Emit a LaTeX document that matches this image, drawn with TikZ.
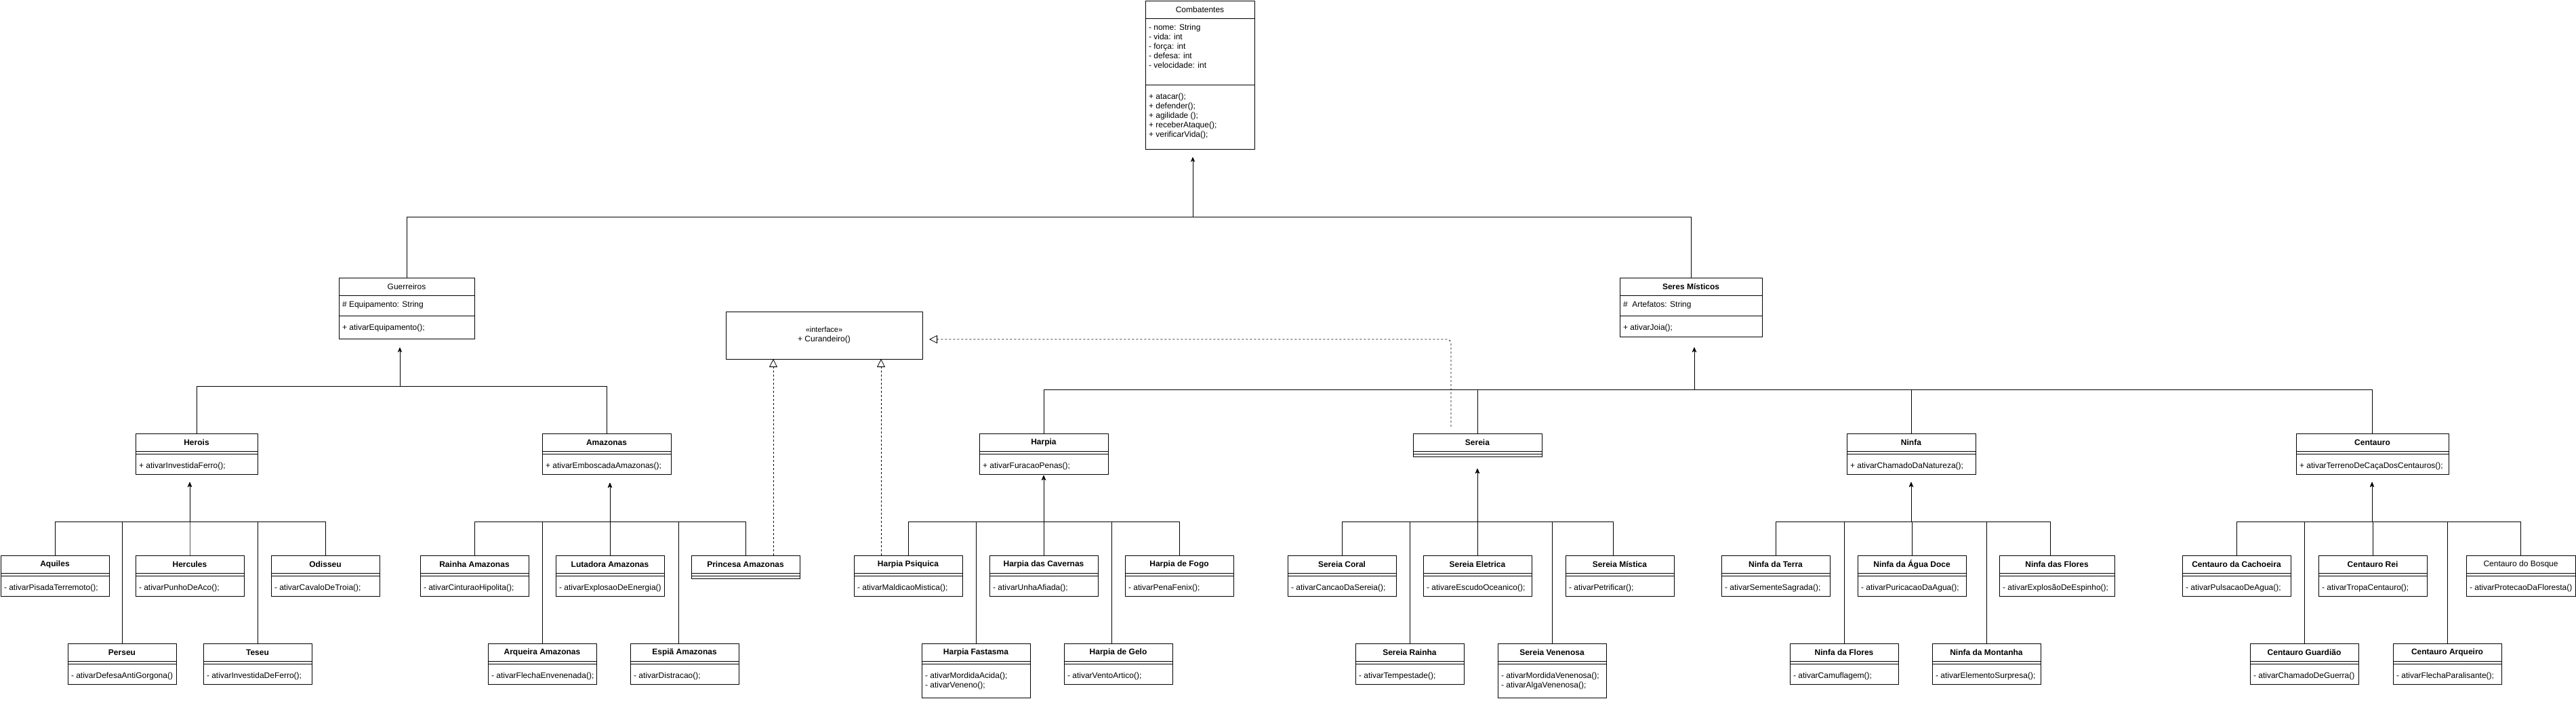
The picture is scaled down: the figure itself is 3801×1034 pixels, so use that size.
\documentclass[tikz,border=0pt]{standalone}
\usepackage{fontspec}
\setmainfont{Liberation Sans}
\usetikzlibrary{arrows.meta}

% class box: name, x, y, width, title, attributes, attr height, methods, method height
\newcommand{\umlclass}[9]{%
\node[classtitle,minimum width=#4pt,anchor=north west] (#1) at (#2,#3) {#5};
\node[classpart,minimum width=#4pt,minimum height=#7pt,anchor=north west] (#1-a) at (#1.south west) {};
\node[attrtext] (#1-at) at (#1-a.north west) {#6};
\node[classpart,minimum width=#4pt,minimum height=#9pt,anchor=north west] (#1-m) at (#1-a.south west) {};
\node[methtext] (#1-mt) at (#1-m.north west) {#8};
}

\begin{document}
\begin{tikzpicture}[x=1pt,y=-1pt,inner sep=0pt,outer sep=0pt,line width=0.8pt,
font=\fontsize{12}{14}\selectfont,
classtitle/.style={draw,rectangle,line width=1pt,minimum height=26pt},
classpart/.style={draw,rectangle,line width=1pt},
attrtext/.style={anchor=north west,align=left,inner xsep=5pt,inner ysep=9pt},
methtext/.style={anchor=north west,align=left,inner xsep=5pt,inner ysep=12.5pt},
inh/.style={-{Stealth[length=7pt,width=6pt]}},
real/.style={dash pattern=on 3pt off 3pt,-{Triangle[open,length=12pt,width=12pt]}}]
\useasboundingbox (0,0) rectangle (3801,1034);

% top
\umlclass{comb}{1690}{1}{161}{Combatentes}{- nome: String\\- vida: int\\- força: int\\- defesa: int\\- velocidade: int}{98}{+ atacar();\\+ defender();\\+ agilidade ();\\+ receberAtaque();\\+ verificarVida();}{95}
\umlclass{guer}{500}{410}{200}{Guerreiros}{\# Equipamento: String}{30}{+ ativarEquipamento();}{34}
\umlclass{seres}{2390}{410}{210}{\textbf{Seres Místicos}}{\#~~Artefatos: String}{30}{+ ativarJoia();}{31}
\node[draw,line width=1pt,minimum width=290pt,minimum height=70pt,anchor=north west,align=center] (cur) at (1071,460) {{\fontsize{11}{13}\selectfont «interface»}\\+ Curandeiro()};

% second row
\umlclass{herois}{200}{640}{180}{\textbf{Herois}}{}{4}{+ ativarInvestidaFerro();}{30}
\umlclass{amaz}{800}{640}{190}{\textbf{Amazonas}}{}{4}{+ ativarEmboscadaAmazonas();}{30}
\umlclass{harpia}{1445}{640}{190}{\textbf{Harpia}}{}{4}{+ ativarFuracaoPenas();}{30}
\umlclass{sereia}{2085}{640}{190}{\textbf{Sereia}}{}{4}{}{4}
\umlclass{ninfa}{2725}{640}{190}{\textbf{Ninfa}}{}{4}{+ ativarChamadoDaNatureza();}{30}
\umlclass{centauro}{3388}{640}{225}{\textbf{Centauro}}{}{4}{+ ativarTerrenoDeCaçaDosCentauros();}{30}

% herois
\umlclass{aquiles}{1}{820}{160}{\textbf{Aquiles}}{}{4}{- ativarPisadaTerremoto();}{30}
\umlclass{hercules}{200}{820}{160}{\textbf{Hercules}}{}{4}{- ativarPunhoDeAco();}{30}
\umlclass{odisseu}{400}{820}{160}{\textbf{Odisseu}}{}{4}{- ativarCavaloDeTroia();}{30}
\umlclass{perseu}{100}{950}{160}{\textbf{Perseu}}{}{4}{- ativarDefesaAntiGorgona()}{30}
\umlclass{teseu}{300}{950}{160}{\textbf{Teseu}}{}{4}{- ativarInvestidaDeFerro();}{30}

% amazonas
\umlclass{rainha}{620}{820}{160}{\textbf{Rainha Amazonas}}{}{4}{- ativarCinturaoHipolita();}{30}
\umlclass{lutadora}{820}{820}{160}{\textbf{Lutadora Amazonas}}{}{4}{- ativarExplosaoDeEnergia()}{30}
\umlclass{princesa}{1020}{820}{160}{\textbf{Princesa Amazonas}}{}{4}{}{4}
\umlclass{arqueira}{720}{950}{160}{\textbf{Arqueira Amazonas}}{}{4}{- ativarFlechaEnvenenada();}{30}
\umlclass{espia}{930}{950}{160}{\textbf{Espiã Amazonas}}{}{4}{- ativarDistracao();}{30}

% harpia
\umlclass{hpsiq}{1260}{820}{160}{\textbf{Harpia Psiquica}}{}{4}{- ativarMaldicaoMistica();}{30}
\umlclass{hcav}{1460}{820}{160}{\textbf{Harpia das Cavernas}}{}{4}{- ativarUnhaAfiada();}{30}
\umlclass{hfogo}{1660}{820}{160}{\textbf{Harpia de Fogo}}{}{4}{- ativarPenaFenix();}{30}
\umlclass{hfant}{1360}{950}{160}{\textbf{Harpia Fastasma}}{}{4}{- ativarMordidaAcida();\\- ativarVeneno();}{50}
\umlclass{hgelo}{1570}{950}{160}{\textbf{Harpia de Gelo}}{}{4}{- ativarVentoArtico();}{30}

% sereia
\umlclass{scoral}{1900}{820}{160}{\textbf{Sereia Coral}}{}{4}{- ativarCancaoDaSereia();}{30}
\umlclass{seletr}{2100}{820}{160}{\textbf{Sereia Eletrica}}{}{4}{- ativareEscudoOceanico();}{30}
\umlclass{smist}{2310}{820}{160}{\textbf{Sereia Mística}}{}{4}{- ativarPetrificar();}{30}
\umlclass{srainha}{2000}{950}{160}{\textbf{Sereia Rainha}}{}{4}{- ativarTempestade();}{30}
\umlclass{svenen}{2210}{950}{160}{\textbf{Sereia Venenosa}}{}{4}{- ativarMordidaVenenosa();\\- ativarAlgaVenenosa();}{50}

% ninfa
\umlclass{nterra}{2540}{820}{160}{\textbf{Ninfa da Terra}}{}{4}{- ativarSementeSagrada();}{30}
\umlclass{nagua}{2741}{820}{160}{\textbf{Ninfa da Água Doce}}{}{4}{- ativarPuricacaoDaAgua();}{30}
\umlclass{nflores}{2950}{820}{170}{\textbf{Ninfa das Flores}}{}{4}{- ativarExplosãoDeEspinho();}{30}
\umlclass{nflores2}{2641}{950}{160}{\textbf{Ninfa da Flores}}{}{4}{- ativarCamuflagem();}{30}
\umlclass{nmont}{2851}{950}{160}{\textbf{Ninfa da Montanha}}{}{4}{- ativarElementoSurpresa();}{30}

% centauro
\umlclass{ccach}{3220}{820}{160}{\textbf{Centauro da Cachoeira}}{}{4}{- ativarPulsacaoDeAgua();}{30}
\umlclass{crei}{3421}{820}{160}{\textbf{Centauro Rei}}{}{4}{- ativarTropaCentauro();}{30}
\umlclass{cbosq}{3639}{820}{161}{Centauro do Bosque}{}{4}{- ativarProtecaoDaFloresta()}{30}
\umlclass{cguard}{3320}{950}{160}{\textbf{Centauro Guardião}}{}{4}{- ativarChamadoDeGuerra()}{30}
\umlclass{carq}{3531}{950}{160}{\textbf{Centauro Arqueiro}}{}{4}{- ativarFlechaParalisante();}{30}

% bus points and arrow tips
\coordinate (comb-bus) at (1760,320);  \coordinate (comb-tip) at (1760,232);
\coordinate (guer-bus) at (590,570);   \coordinate (guer-tip) at (590,513);
\coordinate (seres-bus) at (2500,575); \coordinate (seres-tip) at (2500,513);
\coordinate (herois-bus) at (280,770); \coordinate (herois-tip) at (280,712);
\coordinate (amaz-bus) at (900,770);   \coordinate (amaz-tip) at (900,713);
\coordinate (harpia-bus) at (1540,770); \coordinate (harpia-tip) at (1540,702);
\coordinate (sereia-bus) at (2180,770); \coordinate (sereia-tip) at (2180,692);
\coordinate (ninfa-bus) at (2820,770); \coordinate (ninfa-tip) at (2820,712);
\coordinate (centauro-bus) at (3500,770); \coordinate (centauro-tip) at (3500,712);

\draw[inh] (guer.north) |- (comb-bus) -- (comb-tip);
\draw[inh] (seres.north) |- (comb-bus) -- (comb-tip);

\draw[inh] (herois.north) |- (guer-bus) -- (guer-tip);
\draw[inh] (amaz.north) |- (guer-bus) -- (guer-tip);
\draw[inh] (harpia.north) |- (seres-bus) -- (seres-tip);
\draw[inh] (sereia.north) |- (seres-bus) -- (seres-tip);
\draw[inh] (ninfa.north) |- (seres-bus) -- (seres-tip);
\draw[inh] (centauro.north) |- (seres-bus) -- (seres-tip);

\draw[inh] (aquiles.north) |- (herois-bus) -- (herois-tip);
\draw[inh] (hercules.north) |- (herois-bus) -- (herois-tip);
\draw[inh] (odisseu.north) |- (herois-bus) -- (herois-tip);
\draw[inh] (perseu.north) |- (herois-bus) -- (herois-tip);
\draw[inh] (teseu.north) |- (herois-bus) -- (herois-tip);

\draw[inh] (rainha.north) |- (amaz-bus) -- (amaz-tip);
\draw[inh] (lutadora.north) |- (amaz-bus) -- (amaz-tip);
\draw[inh] (princesa.north) |- (amaz-bus) -- (amaz-tip);
\draw[inh] (arqueira.north) |- (amaz-bus) -- (amaz-tip);
\draw[inh] ([xshift=-9pt]espia.north) |- (amaz-bus) -- (amaz-tip);

\draw[inh] (hpsiq.north) |- (harpia-bus) -- (harpia-tip);
\draw[inh] (hcav.north) |- (harpia-bus) -- (harpia-tip);
\draw[inh] (hfogo.north) |- (harpia-bus) -- (harpia-tip);
\draw[inh] (hfant.north) |- (harpia-bus) -- (harpia-tip);
\draw[inh] ([xshift=-10pt]hgelo.north) |- (harpia-bus) -- (harpia-tip);

\draw[inh] (scoral.north) |- (sereia-bus) -- (sereia-tip);
\draw[inh] (seletr.north) |- (sereia-bus) -- (sereia-tip);
\draw[inh] ([xshift=-10pt]smist.north) |- (sereia-bus) -- (sereia-tip);
\draw[inh] (srainha.north) |- (sereia-bus) -- (sereia-tip);
\draw[inh] (svenen.north) |- (sereia-bus) -- (sereia-tip);

\draw[inh] (nterra.north) |- (ninfa-bus) -- (ninfa-tip);
\draw[inh] (nagua.north) |- (ninfa-bus) -- (ninfa-tip);
\draw[inh] ([xshift=-10pt]nflores.north) |- (ninfa-bus) -- (ninfa-tip);
\draw[inh] (nflores2.north) |- (ninfa-bus) -- (ninfa-tip);
\draw[inh] (nmont.north) |- (ninfa-bus) -- (ninfa-tip);

\draw[inh] (ccach.north) |- (centauro-bus) -- (centauro-tip);
\draw[inh] (crei.north) |- (centauro-bus) -- (centauro-tip);
\draw[inh] (cbosq.north) |- (centauro-bus) -- (centauro-tip);
\draw[inh] (cguard.north) |- (centauro-bus) -- (centauro-tip);
\draw[inh] (carq.north) |- (centauro-bus) -- (centauro-tip);

% interface realizations
\coordinate (princesa-r) at ([xshift=41pt]princesa.north);
\coordinate (hpsiq-r) at ([xshift=-40pt]hpsiq.north);
\coordinate (sereia-r) at (2141,630);
\draw[real] (princesa-r) -- (princesa-r |- cur.south);
\draw[real] (hpsiq-r) -- (hpsiq-r |- cur.south);
\draw[real,rounded corners=6pt] (sereia-r) |- ([xshift=10pt,yshift=-6pt]cur.east);

\end{tikzpicture}
\end{document}
